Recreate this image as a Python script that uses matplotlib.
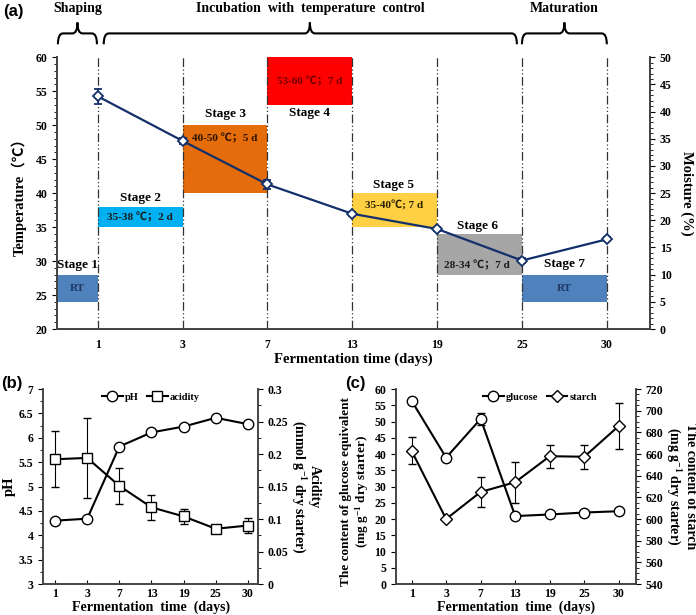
import numpy as np
import matplotlib
matplotlib.use('Agg')
import matplotlib.pyplot as plt
from matplotlib.path import Path
from matplotlib.patches import PathPatch, Rectangle
from matplotlib.ticker import MultipleLocator

plt.rcParams['font.family'] = ['Liberation Serif', 'Noto Sans CJK SC', 'DejaVu Sans']
plt.rcParams['font.weight'] = 'bold'
plt.rcParams['axes.labelweight'] = 'bold'
plt.rcParams['mathtext.fontset'] = 'custom'
plt.rcParams['mathtext.rm'] = 'Liberation Serif:bold'
plt.rcParams['mathtext.bf'] = 'Liberation Serif:bold'
plt.rcParams['mathtext.default'] = 'rm'

# ---------------- data ----------------
days = ['1', '3', '7', '13', '19', '25', '30']

moisture = [42.8, 34.6, 26.6, 21.2, 18.4, 12.6, 16.5]
moisture_err = [1.4, 0.6, 0.9, 0.4, 0.4, 0.5, 0.4]

stage_names = ['Stage 1', 'Stage 2', 'Stage 3', 'Stage 4', 'Stage 5', 'Stage 6', 'Stage 7']
stage_low = [24, 35, 40, 53, 35, 28, 24]
stage_high = [28, 38, 50, 60, 40, 34, 28]
stage_text = ['RT', '35-38 ℃；2 d', '40-50 ℃；5 d', '53-60 ℃；7 d', '35-40℃; 7 d', '28-34 ℃；7 d', 'RT']
stage_colors = ['#4F81BD', '#00B0F0', '#E46C0A', '#FF0000', '#FFD044', '#A6A6A6', '#4F81BD']

ph = [4.30, 4.34, 5.82, 6.11, 6.23, 6.41, 6.28]
acidity = [0.192, 0.194, 0.151, 0.118, 0.104, 0.085, 0.090]
acidity_err = [0.043, 0.062, 0.028, 0.019, 0.011, 0.004, 0.012]

glucose = [56.4, 38.9, 50.8, 20.9, 21.4, 22.0, 22.4]
glucose_err = [0.5, 0.6, 1.8, 0.4, 0.4, 0.4, 0.4]
starch = [663, 600, 625, 634, 658, 657.5, 686]
starch_err = [12.5, 1.5, 14, 19, 10.5, 11, 21]

x = np.arange(len(days))
navy = '#13306B'
TICK = 8.5

fig = plt.figure(figsize=(6.96, 6.15), dpi=100)

# ================= (a) =================
ax = fig.add_axes([0.082, 0.465, 0.852, 0.442])
ax2 = ax.twinx()
xl = (-0.48, 6.51)
ax.set_xlim(xl)
ax.set_ylim(20, 60)
ax2.set_ylim(0, 50)

# stage boxes
edges = [xl[0], 0, 1, 2, 3, 4, 5, 6]
for i in range(7):
    ax.add_patch(Rectangle((edges[i], stage_low[i]), edges[i + 1] - edges[i],
                           stage_high[i] - stage_low[i], color=stage_colors[i], lw=0, zorder=1))

# vertical dash-dot lines
for xi in x:
    ax.plot([xi, xi], [20, 60], color='#333333', lw=0.9,
            ls=(0, (7, 2, 1, 2, 1, 2)), zorder=2)

# stage labels and text in boxes
lab_pos = [(-0.24, 29.4), (0.5, 39.3), (1.5, 51.6), (2.5, 51.8), (3.49, 41.2), (4.47, 35.1), (5.5, 29.6)]
txt_pos = [(-0.24, 26), (0.5, 36.5), (1.5, 48.0), (2.5, 56.5), (3.49, 38.1), (4.47, 29.4), (5.5, 26)]
txt_col = ['#1F3864', '#1a1a1a', '#2a1200', '#6b0000', '#2a2000', '#1a1a1a', '#1F3864']
for i in range(7):
    ax.text(lab_pos[i][0], lab_pos[i][1], stage_names[i], ha='center', va='center',
            fontsize=9.5, zorder=5)
    ax.text(txt_pos[i][0], txt_pos[i][1], stage_text[i], ha='center', va='center',
            fontsize=8, color=txt_col[i], zorder=5)

ax2.errorbar(x, moisture, yerr=moisture_err, color=navy, lw=1.6, marker='D', ms=5,
             mfc='white', mec=navy, mew=1.3, capsize=3, elinewidth=1.2, zorder=6)

ax.set_xticks(x)
ax.set_xticklabels(days)
ax.tick_params(axis='x', length=0, labelsize=TICK, pad=7)
ax.yaxis.set_major_locator(MultipleLocator(5))
ax.yaxis.set_minor_locator(MultipleLocator(1))
ax.tick_params(axis='y', labelsize=TICK, direction='out')
ax2.yaxis.set_major_locator(MultipleLocator(5))
ax2.yaxis.set_minor_locator(MultipleLocator(1))
ax2.tick_params(axis='y', labelsize=TICK, direction='out')
for a in (ax, ax2):
    a.spines['top'].set_visible(False)
    for s in ('left', 'right', 'bottom'):
        a.spines[s].set_color('#444444')
        a.spines[s].set_linewidth(1.3)
ax.set_ylabel('Temperature（℃）', fontsize=10.5, labelpad=6)
ax2.set_ylabel('Moisture (%)', fontsize=10.5, rotation=270, labelpad=16)
ax.set_xlabel('Fermentation time (days)', fontsize=10.5, labelpad=1)


def brace(a, x0, x1, xc, yl, yh, yt, r=0.06):
    verts = [(x0, yl), (x0, yh), (x0 + r, yh), (xc - r, yh), (xc, yh), (xc, yt),
             (xc, yh), (xc + r, yh), (x1 - r, yh), (x1, yh), (x1, yl)]
    codes = [Path.MOVETO, Path.CURVE3, Path.CURVE3, Path.LINETO, Path.CURVE3, Path.CURVE3,
             Path.CURVE3, Path.CURVE3, Path.LINETO, Path.CURVE3, Path.CURVE3]
    a.add_patch(PathPatch(Path(verts, codes), fill=False, lw=1.5, color='black',
                          clip_on=False, transform=a.transData))


brace(ax, -0.47, -0.01, -0.24, 61.9, 63.5, 65.1)
brace(ax, 0.07, 4.94, 2.5, 61.9, 63.5, 65.1)
brace(ax, 5.0, 6.0, 5.5, 61.9, 63.5, 65.1)
ax.text(-0.24, 67.1, 'Shaping', ha='center', va='center', fontsize=10)
ax.text(2.5, 67.1, 'Incubation  with  temperature  control', ha='center', va='center', fontsize=10)
ax.text(5.5, 67.1, 'Maturation', ha='center', va='center', fontsize=10)

fig.text(0.004, 0.982, '(a)', family='Liberation Sans', fontweight='bold', fontsize=12, va='center')


def style_bottom(a, b):
    a.set_xticks(x)
    a.set_xticklabels(days)
    a.tick_params(axis='x', direction='in', length=3, labelsize=TICK, pad=3)
    a.tick_params(axis='y', direction='out', labelsize=TICK)
    b.tick_params(axis='y', direction='out', labelsize=TICK)
    for s in (a, b):
        s.spines['top'].set_visible(False)
        for k in ('left', 'right', 'bottom'):
            s.spines[k].set_color('#444444')
            s.spines[k].set_linewidth(1.2)
    a.set_xlabel('Fermentation  time  (days)', fontsize=10, labelpad=0)


# ================= (b) =================
bx = fig.add_axes([0.062, 0.0504, 0.309, 0.317])
bx2 = bx.twinx()
bx.set_xlim(-0.37, 6.32)
bx.set_ylim(3, 7)
bx2.set_ylim(0, 0.3)
l1, = bx.plot(x, ph, color='black', lw=1.5, marker='o', ms=7.5, mfc='white', mec='black', mew=1, zorder=5)
bx2.errorbar(x, acidity, yerr=acidity_err, color='black', lw=1.5, marker='s', ms=7.5,
             mfc='white', mec='black', mew=1, capsize=3, elinewidth=0.8, zorder=5)
l2, = bx2.plot([], [], color='black', lw=1.5, marker='s', ms=7.5, mfc='white', mec='black', mew=1)
bx.set_yticks(np.arange(3, 7.01, 0.5))
bx.set_yticklabels(['3', '3.5', '4', '4.5', '5', '5.5', '6', '6.5', '7'])
bx.yaxis.set_minor_locator(MultipleLocator(0.25))
bx2.set_yticks(np.arange(0, 0.301, 0.05))
bx2.set_yticklabels(['0', '0.05', '0.1', '0.15', '0.2', '0.25', '0.3'])
bx2.yaxis.set_minor_locator(MultipleLocator(0.025))
style_bottom(bx, bx2)
bx.set_ylabel('pH', fontsize=10.5, labelpad=2)
fig.text(0.438, 0.209, 'Acidity\n(mmol g$^{-1}$ dry starter)', fontsize=10, rotation=270,
         ha='center', va='center', linespacing=1.1, multialignment='center')
bx2.legend([l1, l2], ['pH', 'acidity'], loc='upper center', ncol=2, frameon=False,
           fontsize=7.5, handlelength=2, columnspacing=0.8, handletextpad=0.2,
           bbox_to_anchor=(0.5, 1.03))
fig.text(0.002, 0.377, '(b)', family='Liberation Sans', fontweight='bold', fontsize=12, va='center')

# ================= (c) =================
cx = fig.add_axes([0.569, 0.0504, 0.345, 0.317])
cx2 = cx.twinx()
cx.set_xlim(-0.45, 6.5)
cx.set_ylim(0, 60)
cx2.set_ylim(540, 720)
cx.errorbar(x, glucose, yerr=glucose_err, color='black', lw=1.5, marker='o', ms=7.5,
            mfc='white', mec='black', mew=1, capsize=3, elinewidth=0.8, zorder=5)
cx2.errorbar(x, starch, yerr=starch_err, color='black', lw=1.5, marker='D', ms=6.5,
             mfc='white', mec='black', mew=1, capsize=3, elinewidth=0.8, zorder=5)
l4, = cx2.plot([], [], color='black', lw=1.5, marker='D', ms=6.5, mfc='white', mec='black', mew=1)
l3, = cx2.plot([], [], color='black', lw=1.5, marker='o', ms=7.5, mfc='white', mec='black', mew=1)
cx.yaxis.set_major_locator(MultipleLocator(5))
cx2.yaxis.set_major_locator(MultipleLocator(20))
cx2.yaxis.set_minor_locator(MultipleLocator(5))
style_bottom(cx, cx2)
fig.text(0.511, 0.200, 'The content of glucose equivalent\n(mg g$^{-1}$ dry starter)', fontsize=9.5,
         rotation=90, ha='center', va='center', linespacing=1.1, multialignment='center')
fig.text(0.978, 0.209, 'The content of starch\n(mg g$^{-1}$ dry starter)', fontsize=10,
         rotation=270, ha='center', va='center', linespacing=1.1, multialignment='center')
cx2.legend([l3, l4], ['glucose', 'starch'], loc='upper center', ncol=2, frameon=False,
           fontsize=7.5, handlelength=2, columnspacing=0.8, handletextpad=0.2,
           bbox_to_anchor=(0.6, 1.03))
fig.text(0.496, 0.377, '(c)', family='Liberation Sans', fontweight='bold', fontsize=12, va='center')

fig.savefig('out.png', dpi=100)
